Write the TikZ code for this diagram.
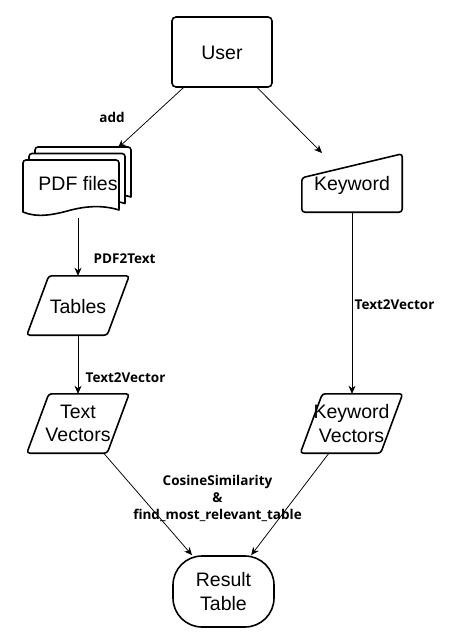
\documentclass[tikz,border=0pt]{standalone}
\usepackage{fontspec}
\setmainfont{Liberation Sans}
\newfontfamily\labelfont{Open Sans}
\usetikzlibrary{arrows.meta, positioning}
\tikzset{
  flowtext/.style={font=\fontsize{19.5}{23.5}\selectfont, align=center, inner sep=0pt},
  oneline/.style={text height=15.5pt, text depth=0pt},
  userbox/.style={flowtext, oneline, draw, line width=1.6pt, rounded corners=4pt,
                  minimum width=100pt, minimum height=70pt},
  endbox/.style={flowtext, draw, line width=1.6pt, rounded corners=29pt,
                 minimum width=101pt, minimum height=71pt},
  iobox/.style={flowtext, minimum width=102pt, minimum height=59pt},
  shapeline/.style={line width=1.6pt, rounded corners=3pt, line join=round},
  flow/.style={-{Stealth[length=8pt, width=7pt, inset=2.5pt]}, line width=0.75pt},
  lbl/.style={font=\labelfont\bfseries\fontsize{13.5}{17}\selectfont, inner sep=3.3pt},
  docpage/.pic={
    \draw[shapeline, fill=white] (0,52) -- (0,0) -- (96,0) [sharp corners] -- (96,50)
      .. controls (80,45) and (64,46) .. (48,50)
      .. controls (30,55) and (14,58) .. (0,52) -- cycle;
  },
}
\begin{document}
\begin{tikzpicture}[x=1pt, y=-1pt]
\useasboundingbox (0,0) rectangle (451,636);

% stack of pdf pages, back to front
\foreach \px/\py in {35/147, 29/153.5, 23/160}
  \pic at (\px,\py) {docpage};

\node[userbox] (user) at (222,52) {User};
\node[flowtext, oneline, minimum width=109pt, minimum height=71pt] (pdf) at (78,182.5) {PDF files};
\node[flowtext, oneline, minimum width=100pt, minimum height=58pt] (kw) at (352,183) {Keyword};
\node[iobox, oneline] (tables) at (78,305.5) {Tables};
\node[iobox] (txtvec) at (78,423.5) {Text\\Vectors};
\node[iobox] (kwvec) at (351.5,423.5) {Keyword\\Vectors};
\node[endbox] (result) at (223.5,591.5) {Result\\Table};
\coordinate (pdfin) at (118,148);
\coordinate (kwin) at (322,153);

% keyword input shape
\draw[shapeline] (kw.south west) -- ([yshift=-24pt]kw.north west) -- (kw.north east)
  -- (kw.south east) -- cycle;
% data parallelograms
\foreach \n in {tables, txtvec, kwvec}
  \draw[shapeline] ([xshift=22pt]\n.north west) -- (\n.north east)
    -- ([xshift=-22pt]\n.south east) -- (\n.south west) -- cycle;

\draw[flow] (user) -- node[lbl, pos=0.49, left=23pt] (addlbl) {add} (pdfin);
\draw[flow] (user) -- (kwin);
\draw[flow] (pdf.south) -- node[lbl, pos=0.71, right=12pt] (p2tlbl) {PDF2Text} (tables.north);
\draw[flow] (tables) -- node[lbl, pos=0.72, right=4pt] (t2vlbl) {Text2Vector} (txtvec);
\draw[flow] (kw) -- node[lbl, pos=0.51, right=-1pt] (kwlbl) {Text2Vector} (kw |- kwvec.north);
\draw[flow] (txtvec) -- (result);
\draw[flow] (kwvec) -- (result);
\node[lbl, align=center, above=30pt of result, xshift=-6pt] (simlbl)
  {CosineSimilarity\\\&\\find\_most\_relevant\_table};
\end{tikzpicture}
\end{document}
